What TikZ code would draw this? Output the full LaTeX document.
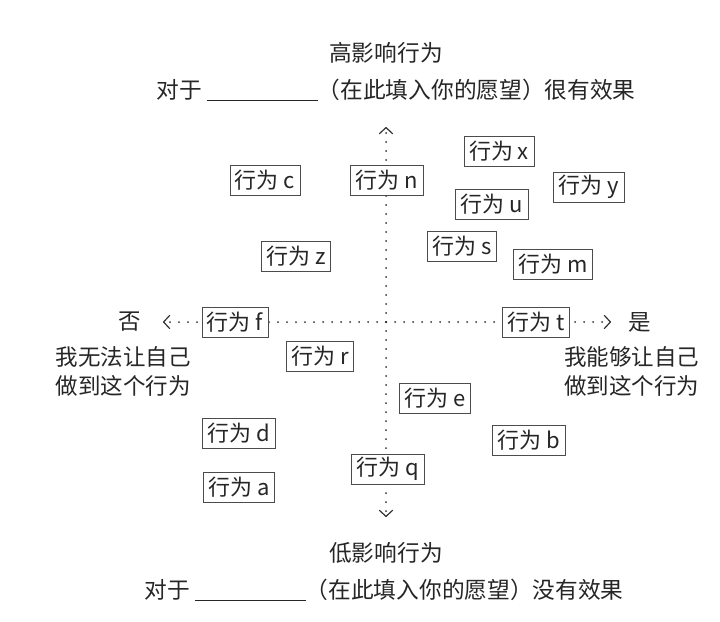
\documentclass[tikz,border=0pt]{standalone}
\usepackage{fontspec}
\newfontfamily\cjk{Noto Sans CJK SC}
\usetikzlibrary{arrows.meta, positioning}

\begin{document}
\begin{tikzpicture}[x=1pt, y=-1pt,
                act/.style={rectangle, draw=black!70, fill=white, line width=0.8pt, inner xsep=5pt, inner ysep=1pt, minimum height=30pt, text=black!85, font=\cjk\fontsize{22}{26}\selectfont},
                heading/.style={text=black!85, font=\cjk\fontsize{22.7}{27}\selectfont},
                side/.style={text=black!85, align=left, font=\cjk\fontsize{22.5}{29}\selectfont},
                axis/.style={black!80, line width=2pt, line cap=round, dash pattern=on 0pt off 9pt, -{Straight Barb[round, length=6pt, width=13pt, line width=1.2pt 0 1, sep=3pt]}}
            ]%
            \fill[white] (0,0) rectangle (720,621);
            %
            % Ejes
            \coordinate (o) at (386,322);
            \coordinate (top) at (386,124);
            \coordinate (bot) at (386,520);
            \coordinate (lft) at (160,322);
            \coordinate (rgt) at (614,322);
            \draw[axis] (o) -- (top);
            \draw[axis] (o) -- (bot);
            \draw[axis] (o) -- (lft);
            \draw[axis] (o) -- (rgt);
            %
            % Titulos
            \node[heading] (hi) at (386,53) {高影响行为};
            \node[heading] (hi_desc) at (396,90) {对于 \rule[-2pt]{111pt}{0.8pt}（在此填入你的愿望）很有效果};
            \node[heading] (lo) at (386,553) {低影响行为};
            \node[heading] (lo_desc) at (384,590) {对于 \rule[-2pt]{111pt}{0.8pt}（在此填入你的愿望）没有效果};
            %
            % Extremos horizontales
            \node[side] (no) at (130,322) {否};
            \node[side] (yes) at (640,322) {是};
            \node[side, anchor=west] (no_desc) at (52,371) {我无法让自己\\做到这个行为};
            \node[side, anchor=east] (yes_desc) at (703,371) {我能够让自己\\做到这个行为};
            %
            % Comportamientos
            \node[act] (x) at (499,151) {行为 x};
            \node[act] (c) at (265,180) {行为 c};
            \node[act] (n) at (387,180) {行为 n};
            \node[act] (y) at (589,187) {行为 y};
            \node[act] (u) at (492,204) {行为 u};
            \node[act] (s) at (462,246) {行为 s};
            \node[act] (z) at (296,256) {行为 z};
            \node[act] (m) at (553,264) {行为 m};
            \node[act] (f) at (235,322) {行为 f};
            \node[act] (t) at (536,322) {行为 t};
            \node[act] (r) at (320,356) {行为 r};
            \node[act] (e) at (435,398) {行为 e};
            \node[act] (d) at (239,433) {行为 d};
            \node[act] (b) at (529,440) {行为 b};
            \node[act] (q) at (388,469) {行为 q};
            \node[act] (a) at (239,487) {行为 a};
        \end{tikzpicture}
\end{document}
